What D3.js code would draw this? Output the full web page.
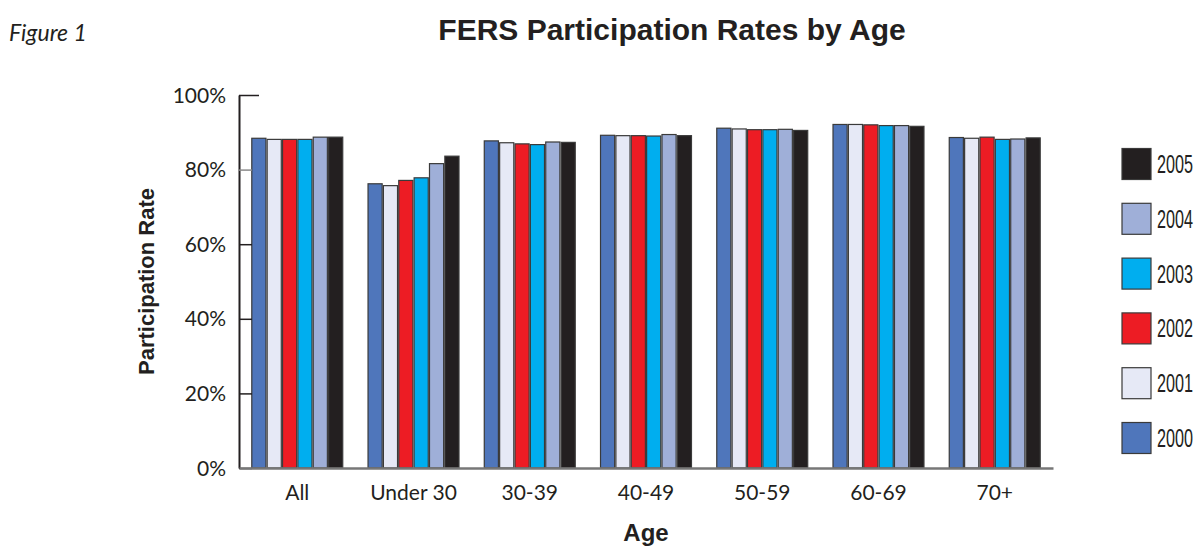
<!DOCTYPE html>
<html>
<head>
<meta charset="utf-8">
<script src="https://cdn.jsdelivr.net/npm/d3@7"></script>
<style>
  body { margin: 0; background: #fff; }
  svg { display: block; font-family: Lato, "Open Sans", sans-serif; }
</style>
</head>
<body>
<svg width="1198" height="547"></svg>
<script>
const ageGroups = ['All', 'Under 30', '30-39', '40-49', '50-59', '60-69', '70+']
const years = ['2000', '2001', '2002', '2003', '2004', '2005']

// participation rate (%) per year, one value per age group
const rate2000 = [88.4, 76.2, 87.7, 89.2, 91.1, 92.1, 88.6]
const rate2001 = [88.1, 75.7, 87.2, 89.1, 90.9, 92.1, 88.4]
const rate2002 = [88.1, 77.1, 86.9, 89.1, 90.7, 92.0, 88.7]
const rate2003 = [88.1, 77.8, 86.7, 89.0, 90.7, 91.8, 88.1]
const rate2004 = [88.7, 81.6, 87.4, 89.4, 90.8, 91.8, 88.2]
const rate2005 = [88.7, 83.6, 87.3, 89.1, 90.5, 91.6, 88.5]

const yTicks = [0, 20, 40, 60, 80, 100]
const colors = ['#4f76bb', '#e6e9f6', '#ed1c24', '#00aeef', '#9fafd8', '#231f20']

const rates = [rate2000, rate2001, rate2002, rate2003, rate2004, rate2005]
const data = ageGroups.map((g, i) => {
  const row = { age: g }
  years.forEach((y, j) => { row[y] = rates[j][i] })
  return row
})

const svg = d3.select('svg')
const margin = { top: 95, left: 239, right: 145, bottom: 79 }
const width = +svg.attr('width')
const height = +svg.attr('height')
const innerWidth = width - margin.left - margin.right
const innerHeight = height - margin.top - margin.bottom

const g = svg.append('g')
  .attr('transform', 'translate(' + margin.left + ',' + margin.top + ')')

const xScale = d3.scaleBand()
  .domain(ageGroups)
  .range([0, innerWidth])
  .paddingInner(0.2175)
  .paddingOuter(0.11)

const xInner = d3.scaleBand()
  .domain(years)
  .range([0, xScale.bandwidth()])
  .paddingInner(0.08)

const yScale = d3.scaleLinear()
  .domain([0, 100])
  .range([innerHeight, 0])

// bars
const groups = g.selectAll('.grp').data(data).join('g')
  .attr('class', 'grp')
  .attr('transform', d => 'translate(' + xScale(d.age) + ',0)')

groups.selectAll('rect')
  .data(d => years.map((y, j) => ({ year: y, value: d[y], idx: j })))
  .join('rect')
  .attr('x', d => xInner(d.year))
  .attr('y', d => yScale(d.value))
  .attr('width', xInner.bandwidth())
  .attr('height', d => yScale(0) - yScale(d.value))
  .attr('fill', d => colors[d.idx])
  .attr('stroke', '#3a3a3a')
  .attr('stroke-width', 1.2)

// y axis
const yAxis = g.append('g')
  .call(d3.axisLeft(yScale).tickValues(yTicks).tickSizeInner(-13).tickSizeOuter(0).tickPadding(13)
    .tickFormat(d => d + '%'))
yAxis.attr('font-size', null).attr('font-family', null)
yAxis.select('.domain').attr('stroke', '#231f20').attr('stroke-width', 2)
yAxis.selectAll('.tick line').attr('stroke', '#231f20').attr('stroke-width', 1.5)
yAxis.selectAll('.tick line').filter(d => d === 100).attr('x2', 20)
yAxis.selectAll('.tick line').filter(d => d === 80).attr('stroke', '#8a8a8a')
yAxis.selectAll('.tick text')
  .attr('dy', null).attr('y', 7)
  .attr('font-size', 21).attr('fill', '#231f20')
  .attr('font-family', 'Lato, sans-serif')

// x axis
const xAxis = g.append('g')
  .attr('transform', 'translate(0,' + innerHeight + ')')
  .call(d3.axisBottom(xScale).tickSize(0).tickPadding(17))
xAxis.attr('font-size', null).attr('font-family', null)
xAxis.select('.domain').attr('stroke', '#777').attr('stroke-width', 2.5)
xAxis.selectAll('.tick text')
  .attr('dy', null).attr('y', 32)
  .attr('font-size', 21).attr('fill', '#231f20')
  .attr('font-family', 'Lato, sans-serif')

// titles
svg.append('text')
  .attr('x', 672).attr('y', 40)
  .attr('text-anchor', 'middle')
  .attr('font-family', '"Liberation Sans Narrow", "Liberation Sans", sans-serif')
  .attr('font-weight', 'bold')
  .attr('font-size', 30)
  .attr('fill', '#231f20')
  .text('FERS Participation Rates by Age')

svg.append('text')
  .attr('x', 9).attr('y', 41)
  .attr('font-style', 'italic')
  .attr('font-size', 23)
  .attr('fill', '#231f20')
  .text('Figure 1')

svg.append('text')
  .attr('transform', 'translate(154,' + (margin.top + innerHeight / 2) + ') rotate(-90)')
  .attr('text-anchor', 'middle')
  .attr('font-family', '"Liberation Sans Narrow", "Liberation Sans", sans-serif')
  .attr('font-weight', 'bold')
  .attr('font-size', 22)
  .attr('fill', '#231f20')
  .text('Participation Rate')

svg.append('text')
  .attr('x', margin.left + innerWidth / 2).attr('y', 541)
  .attr('text-anchor', 'middle')
  .attr('font-family', '"Liberation Sans Narrow", "Liberation Sans", sans-serif')
  .attr('font-weight', 'bold')
  .attr('font-size', 24)
  .attr('fill', '#231f20')
  .text('Age')

// legend, 2005 at top
const legendY = d3.scalePoint()
  .domain(years.slice().reverse())
  .range([164, 438])

const legend = svg.append('g').selectAll('g')
  .data(years.map((y, j) => ({ year: y, idx: j })))
  .join('g')
  .attr('transform', d => 'translate(1122,' + legendY(d.year) + ')')

legend.append('rect')
  .attr('x', 0).attr('y', -15.5)
  .attr('width', 29).attr('height', 31)
  .attr('fill', d => colors[d.idx])
  .attr('stroke', '#3a3a3a')
  .attr('stroke-width', 1.2)

legend.append('text')
  .attr('x', 35).attr('y', 9)
  .attr('font-family', '"Liberation Sans Narrow", "Liberation Sans", sans-serif')
  .attr('font-size', 25)
  .attr('textLength', 36)
  .attr('lengthAdjust', 'spacingAndGlyphs')
  .attr('fill', '#231f20')
  .text(d => d.year)
</script>
</body>
</html>
